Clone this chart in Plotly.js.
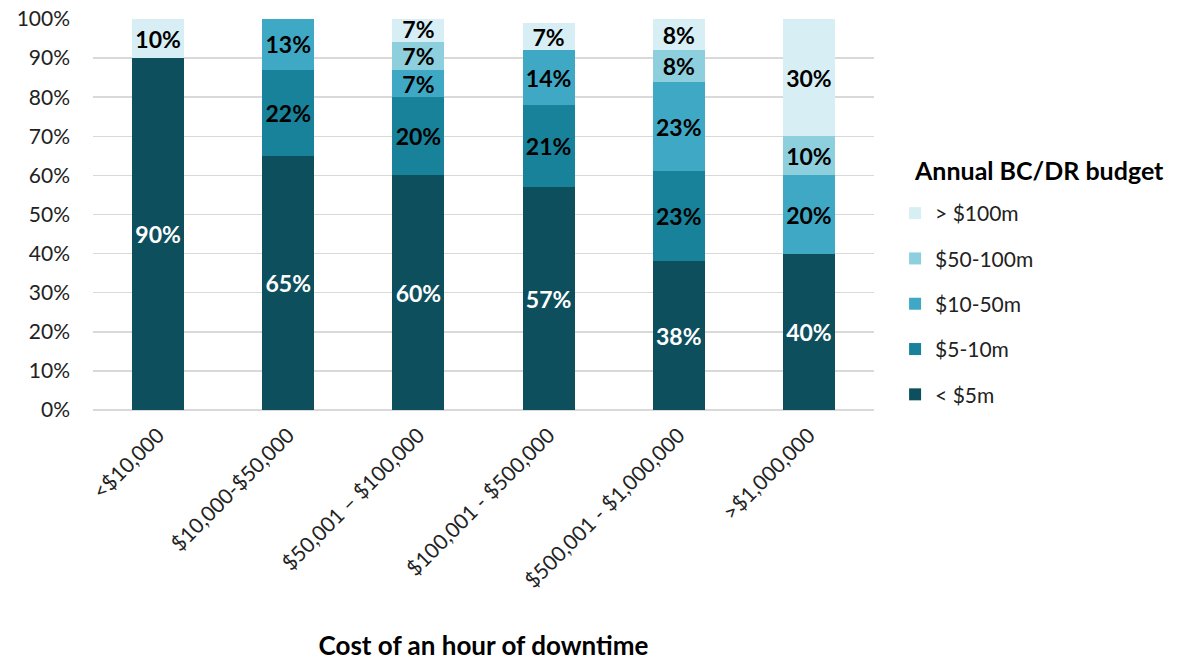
<!DOCTYPE html>
<html>
<head>
<meta charset="utf-8">
<script src="https://cdn.plot.ly/plotly-3.0.1.min.js"></script>
<style>
  html, body { margin: 0; padding: 0; background: #ffffff; }
  #chart { width: 1193px; height: 661px; }
</style>
</head>
<body>
<div id="chart"></div>
<script>
// Cost of an hour of downtime vs. annual BC/DR budget (share of respondents, %)
const categories = ['<$10,000', '$10,000-$50,000', '$50,001 \u2013 $100,000', '$100,001 - $500,000', '$500,001 - $1,000,000', '>$1,000,000'];

const under5m   = [90, 65, 60, 57, 38, 40];
const m5to10    = [null, 22, 20, 21, 23, null];
const m10to50   = [null, 13, 7, 14, 23, 20];
const m50to100  = [null, null, 7, null, 8, 10];
const over100m  = [10, null, 7, 7, 8, 30];

const seriesNames  = ['< $5m', '$5-10m', '$10-50m', '$50-100m', '> $100m'];
const seriesValues = [under5m, m5to10, m10to50, m50to100, over100m];
const seriesColors = ['#0e4f5e', '#17829a', '#3fa9c5', '#8ecfdd', '#d8eef5'];
const labelColors  = ['#ffffff', '#000000', '#000000', '#000000', '#000000'];

const FONT = 'Lato, "Open Sans", sans-serif';

const traces = seriesValues.map((vals, i) => ({
  type: 'bar',
  name: seriesNames[i],
  x: categories,
  y: vals,
  text: vals.map(v => (v === null ? '' : v + '%')),
  texttemplate: '%{text}',
  legendgroup: 'g' + i,
  // highest budget band listed first in the legend
  legendrank: 100 - i,
  marker: { color: seriesColors[i], line: { width: 0 } },
  textposition: 'inside',
  insidetextanchor: 'middle',
  textangle: 0,
  constraintext: 'none',
  textfont: { family: FONT, size: 23, color: labelColors[i], weight: 'bold' },
  hoverinfo: 'skip'
}));

const layout = {
  width: 1193,
  height: 661,
  barmode: 'stack',
  bargap: 0.6,
  paper_bgcolor: '#ffffff',
  plot_bgcolor: '#ffffff',
  margin: { l: 93, r: 319, t: 19, b: 251, pad: 0 },
  font: { family: FONT, color: '#222222' },
  showlegend: true,
  hovermode: false,
  xaxis: {
    type: 'category',
    tickangle: -45,
    tickfont: { family: FONT, size: 21, color: '#222222' },
    ticklabelstandoff: 8,
    showgrid: false,
    showline: false,
    ticks: '',
    automargin: false,
    title: {
      text: 'Cost of an hour of downtime',
      font: { family: FONT, size: 26, color: '#000000', weight: 'bold' },
      standoff: 50
    }
  },
  yaxis: {
    range: [0, 100],
    dtick: 10,
    ticksuffix: '%',
    tickfont: { family: FONT, size: 21, color: '#222222' },
    gridcolor: '#d9d9d9',
    gridwidth: 1.5,
    zeroline: true,
    zerolinecolor: '#d9d9d9',
    zerolinewidth: 1.5,
    showline: false,
    ticks: '',
    ticklabelstandoff: 22,
    automargin: false,
    fixedrange: true
  },
  legend: {
    x: 1.027,
    xanchor: 'left',
    y: 0.555,
    yanchor: 'top',
    traceorder: 'grouped',
    tracegroupgap: 15,
    font: { family: FONT, size: 21, color: '#222222' },
    itemwidth: 30,
    bgcolor: 'rgba(0,0,0,0)'
  },
  annotations: [{
    text: 'Annual BC/DR budget',
    xref: 'paper', yref: 'paper',
    x: 1.049, y: 0.614,
    xanchor: 'left', yanchor: 'middle',
    showarrow: false,
    font: { family: FONT, size: 25, color: '#000000', weight: 'bold' }
  }]
};

Plotly.newPlot('chart', traces, layout, { displayModeBar: false, staticPlot: true });
</script>
</body>
</html>
